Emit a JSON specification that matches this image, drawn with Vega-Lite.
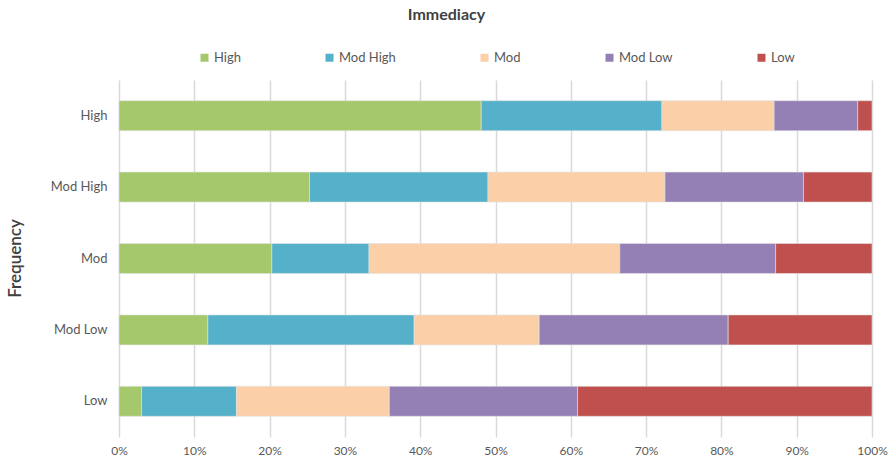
{
  "$schema": "https://vega.github.io/schema/vega-lite/v6.json",
  "autosize": {"type": "none"},
  "width": 753,
  "height": 357,
  "padding": {"left": 119, "top": 80, "right": 21, "bottom": 25},
  "background": "white",
  "title": {
    "text": "Immediacy",
    "font": "Lato",
    "fontSize": 16,
    "fontWeight": "bold",
    "color": "#404040",
    "anchor": "middle",
    "dx": -49,
    "offset": 28
  },
  "data": {
    "values": [
      {"Frequency": "High", "Immediacy": "High", "share": 48.1},
      {"Frequency": "High", "Immediacy": "Mod High", "share": 24.0},
      {"Frequency": "High", "Immediacy": "Mod", "share": 14.9},
      {"Frequency": "High", "Immediacy": "Mod Low", "share": 11.1},
      {"Frequency": "High", "Immediacy": "Low", "share": 1.9},
      {"Frequency": "Mod High", "Immediacy": "High", "share": 25.3},
      {"Frequency": "Mod High", "Immediacy": "Mod High", "share": 23.7},
      {"Frequency": "Mod High", "Immediacy": "Mod", "share": 23.5},
      {"Frequency": "Mod High", "Immediacy": "Mod Low", "share": 18.4},
      {"Frequency": "Mod High", "Immediacy": "Low", "share": 9.1},
      {"Frequency": "Mod", "Immediacy": "High", "share": 20.3},
      {"Frequency": "Mod", "Immediacy": "Mod High", "share": 12.9},
      {"Frequency": "Mod", "Immediacy": "Mod", "share": 33.3},
      {"Frequency": "Mod", "Immediacy": "Mod Low", "share": 20.7},
      {"Frequency": "Mod", "Immediacy": "Low", "share": 12.8},
      {"Frequency": "Mod Low", "Immediacy": "High", "share": 11.8},
      {"Frequency": "Mod Low", "Immediacy": "Mod High", "share": 27.4},
      {"Frequency": "Mod Low", "Immediacy": "Mod", "share": 16.6},
      {"Frequency": "Mod Low", "Immediacy": "Mod Low", "share": 25.1},
      {"Frequency": "Mod Low", "Immediacy": "Low", "share": 19.1},
      {"Frequency": "Low", "Immediacy": "High", "share": 3.0},
      {"Frequency": "Low", "Immediacy": "Mod High", "share": 12.6},
      {"Frequency": "Low", "Immediacy": "Mod", "share": 20.3},
      {"Frequency": "Low", "Immediacy": "Mod Low", "share": 25.0},
      {"Frequency": "Low", "Immediacy": "Low", "share": 39.1}
    ]
  },
  "transform": [
    {"calculate": "indexof(['High','Mod High','Mod','Mod Low','Low'], datum.Immediacy)", "as": "stackOrder"}
  ],
  "mark": {"type": "bar", "stroke": "#e3e3e3", "strokeWidth": 0.6},
  "encoding": {
    "y": {
      "field": "Frequency",
      "type": "nominal",
      "sort": ["High", "Mod High", "Mod", "Mod Low", "Low"],
      "scale": {"paddingInner": 0.58, "paddingOuter": 0.29},
      "axis": {
        "title": "Frequency",
        "titleFont": "Lato",
        "titleFontSize": 17,
        "titleFontWeight": 600,
        "titleColor": "#404040",
        "titleX": -104,
        "titleY": 178,
        "titleAlign": "center",
        "titleBaseline": "middle",
        "labelFont": "Lato",
        "labelFontSize": 13,
        "labelColor": "#595959",
        "labelPadding": 12,
        "ticks": false,
        "domain": false
      }
    },
    "x": {
      "field": "share",
      "type": "quantitative",
      "stack": "normalize",
      "scale": {"domain": [0, 1]},
      "axis": {
        "title": null,
        "format": ".0%",
        "values": [0, 0.1, 0.2, 0.3, 0.4, 0.5, 0.6, 0.7, 0.8, 0.9, 1],
        "labelFont": "Lato",
        "labelFontSize": 12,
        "labelColor": "#595959",
        "labelPadding": 8,
        "ticks": false,
        "domain": false,
        "grid": true,
        "gridColor": "#d9d9d9",
        "gridWidth": 1.5,
        "labelFlush": false
      }
    },
    "color": {
      "field": "Immediacy",
      "type": "nominal",
      "scale": {
        "domain": ["High", "Mod High", "Mod", "Mod Low", "Low"],
        "range": ["#a6c86c", "#55b1ca", "#fbcfa8", "#9580b5", "#c0504d"]
      },
      "legend": {
        "title": null,
        "orient": "none",
        "direction": "horizontal",
        "legendX": 79,
        "legendY": -29,
        "symbolType": "square",
        "symbolSize": 64,
        "symbolStrokeWidth": 0,
        "labelFont": "Lato",
        "labelFontSize": 13,
        "labelColor": "#595959",
        "labelOffset": 3,
        "columnPadding": 82
      }
    },
    "order": {"field": "stackOrder", "type": "quantitative"}
  },
  "config": {"view": {"stroke": null}}
}
